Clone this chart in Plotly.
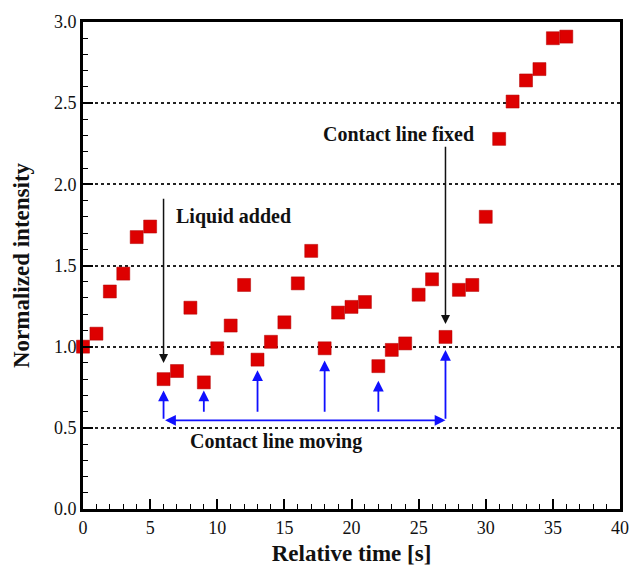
import plotly.graph_objects as go

time_s = list(range(0, 37))
intensity = [1.00, 1.08, 1.34, 1.45, 1.675, 1.74, 0.80, 0.85, 1.24, 0.78,
             0.99, 1.13, 1.38, 0.92, 1.03, 1.15, 1.39, 1.59, 0.99, 1.21,
             1.245, 1.275, 0.88, 0.98, 1.02, 1.32, 1.415, 1.06, 1.35, 1.38,
             1.80, 2.28, 2.51, 2.64, 2.71, 2.90, 2.91]

x_ticks = [0, 5, 10, 15, 20, 25, 30, 35, 40]
y_ticks = [0.0, 0.5, 1.0, 1.5, 2.0, 2.5, 3.0]

# Annotation arrows (data coords)
black_arrows = [  # (x, y_start, y_tip)
    (6, 1.92, 0.90),
    (27, 2.24, 1.14),
]
blue_arrows = [  # (x, y_start, y_tip)
    (6, 0.546, 0.73),
    (9, 0.59, 0.73),
    (13, 0.59, 0.855),
    (18, 0.59, 0.915),
    (22, 0.59, 0.79),
    (27, 0.546, 0.98),
]
moving_span = (6, 27, 0.546)

FONT = '"Liberation Serif"'

fig = go.Figure()
fig.add_trace(go.Scatter(
    x=time_s, y=intensity, mode="markers",
    marker=dict(symbol="square", size=13, color="#dd0000",
                line=dict(color="#b00000", width=0.5)),
    cliponaxis=False, showlegend=False,
))

annotations = []
for x, y0, y1 in black_arrows:
    annotations.append(dict(x=x, y=y1, ax=x, ay=y0, xref="x", yref="y",
                            axref="x", ayref="y", showarrow=True, text="",
                            arrowhead=2, arrowsize=1.2, arrowwidth=1.5,
                            arrowcolor="#111111"))
for x, y0, y1 in blue_arrows:
    annotations.append(dict(x=x, y=y1, ax=x, ay=y0, xref="x", yref="y",
                            axref="x", ayref="y", showarrow=True, text="",
                            arrowhead=2, arrowsize=1.2, arrowwidth=1.8,
                            arrowcolor="#1010ff"))
x0, x1, yy = moving_span
annotations.append(dict(x=x1, y=yy, ax=x0, ay=yy, xref="x", yref="y",
                        axref="x", ayref="y", showarrow=True, text="",
                        arrowhead=2, arrowsize=1.2, arrowwidth=1.8,
                        arrowside="end+start", arrowcolor="#1010ff"))

labels = [
    ("Liquid added", 6.8, 1.80, "left"),
    ("Contact line fixed", 23.5, 2.31, "center"),
    ("Contact line moving", 14.4, 0.415, "center"),
]
for txt, x, y, anchor in labels:
    annotations.append(dict(x=x, y=y, xref="x", yref="y", text="<b>%s</b>" % txt,
                            showarrow=False, xanchor=anchor, yanchor="middle",
                            font=dict(family=FONT, size=20, color="#111111")))

fig.update_layout(
    width=630, height=566,
    margin=dict(l=83, r=10, t=22, b=57),
    paper_bgcolor="white", plot_bgcolor="white",
    font=dict(family=FONT, size=18, color="#111111"),
    annotations=annotations,
    xaxis=dict(
        range=[0, 40], tickvals=x_ticks, ticktext=[str(v) for v in x_ticks],
        ticks="inside", ticklen=10, tickwidth=2, tickcolor="black",
        minor=dict(dtick=1, ticks="inside", ticklen=5, tickwidth=1.2,
                   tickcolor="black", showgrid=False),
        showline=True, linecolor="black", linewidth=3, mirror=True,
        showgrid=False, zeroline=False, automargin=False,
        tickfont=dict(family=FONT, size=18),
        title=dict(text="<b>Relative time [s]</b>",
                   font=dict(family=FONT, size=23), standoff=10),
    ),
    yaxis=dict(
        range=[0, 3], tickvals=y_ticks, ticktext=["%.1f" % v for v in y_ticks],
        ticks="inside", ticklen=10, tickwidth=2, tickcolor="black",
        minor=dict(dtick=0.1, ticks="inside", ticklen=5, tickwidth=1.2,
                   tickcolor="black", showgrid=False),
        showline=True, linecolor="black", linewidth=3, mirror=True,
        showgrid=True, gridcolor="#222222", gridwidth=1.6, griddash="dot",
        zeroline=False, automargin=False,
        tickfont=dict(family=FONT, size=18),
        title=dict(text="<b>Normalized intensity</b>",
                   font=dict(family=FONT, size=23), standoff=18),
    ),
)

fig.write_html("out.html", config={"displayModeBar": False},
               post_script="document.body.style.margin='0';")
